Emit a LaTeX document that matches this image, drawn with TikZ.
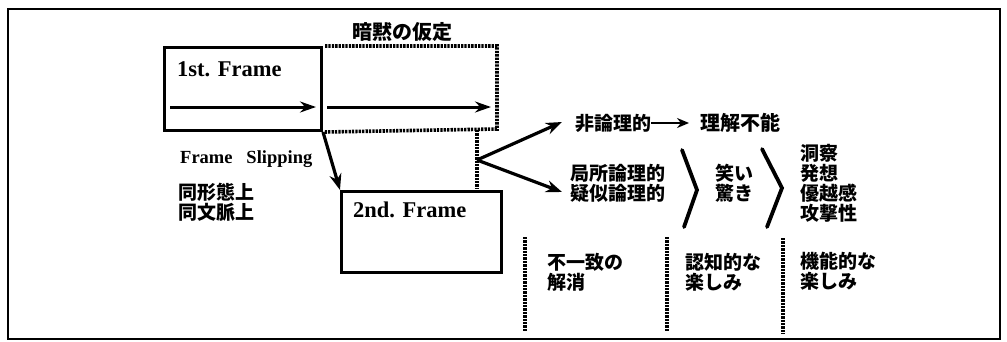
\documentclass[tikz,border=0pt]{standalone}
\usepackage{fontspec}
\setmainfont{Liberation Serif}
\newfontfamily\jp{Noto Sans CJK JP}
\usetikzlibrary{arrows.meta}
\begin{document}
\begin{tikzpicture}[x=1pt,y=-1pt,
  solidbox/.style={draw, line width=3pt, inner sep=0pt},
  dotline/.style={line width=3.6pt, dash pattern=on 2.3pt off 1.1pt},
  arr/.style={line width=3pt, -{Stealth[length=16pt,width=11pt]}},
  thickarr/.style={line width=3.2pt, -{Stealth[length=16pt,width=12pt]}},
  jtext/.style={font=\jp\bfseries\fontsize{19}{20}\selectfont, inner sep=0pt, align=left, anchor=west},
  etext/.style={font=\bfseries\fontsize{22.5}{24}\selectfont, inner sep=0pt, anchor=base west},
  chev/.style={line width=3.8pt, line cap=round, line join=miter}
]
\useasboundingbox (0,0) rectangle (1007,341);
\draw[line width=1.3pt] (8,9) rectangle (1000,339);

% frames
\node[solidbox, minimum width=157pt, minimum height=83pt, anchor=north west] (f1) at (163,46) {};
\node[solidbox, line width=2.8pt, minimum width=160pt, minimum height=81pt, anchor=north west] (f2) at (340,190) {};
% implicit assumption box (dotted, three sides)
\coordinate (impNE) at (497,46);
\coordinate (impSE) at (497,129);
\draw[dotline] ([xshift=2pt]f1.north east) -- (impNE) -- (impSE) -- ([xshift=2pt]f1.south east);

\node[font=\jp\bfseries\fontsize{20}{22}\selectfont, inner sep=0pt] (assume) at (402,32) {暗黙の仮定};
\node[etext] (t1) at (177,76) {1st. Frame};
\node[etext] (t2) at (353,217) {2nd. Frame};
\node[font=\bfseries\fontsize{18.5}{20}\selectfont, inner sep=0pt, anchor=base west] (slip) at (180,163) {Frame\hspace{0.75em}Slipping};
\node[jtext] (same) at (178,202) {同形態上\\同文脈上};

% arrows inside frames
\coordinate (a1s) at (170,107);
\coordinate (a1e) at (316,107);
\coordinate (a2s) at (327,107);
\coordinate (a2e) at (491,107);
\draw[arr] (a1s) -- (a1e);
\draw[arr] (a2s) -- (a2e);

% frame slipping arrow
\draw[thickarr] (f1.south east) -- (f2.north west);

% dotted vertical and branch
\coordinate (vtop) at (477,130);
\coordinate (vbot) at (477,189);
\coordinate (br) at (477,160);
\draw[dotline] (vtop) -- (vbot);

\node[jtext] (nonlog) at (575,123) {非論理的};
\node[jtext, font=\jp\bfseries\fontsize{20}{22}\selectfont] (incomp) at (700,123) {理解不能};
\node[jtext] (local) at (570,183) {局所論理的\\疑似論理的};
\coordinate (uptip) at (562,122);
\coordinate (lowtip) at (562,192);
\draw[thickarr] (br) -- (uptip);
\draw[thickarr] (br) -- (lowtip);
\draw[line width=2.8pt, -{Stealth[length=12pt,width=10pt]}] (nonlog.east) -- ([xshift=-11pt]incomp.west);

% chevrons
\draw[chev] (682,150) -- (697,190) -- (684,227);
\node[jtext] (laugh) at (715,183) {笑い\\驚き};
\draw[chev] (762,149) -- (782,188) -- (767,227);
\node[jtext] (effects) at (800,183) {洞察\\発想\\優越感\\攻撃性};

% bottom dotted separators and texts
\coordinate (d1t) at (525,237); \coordinate (d1b) at (525,332);
\coordinate (d2t) at (667,237); \coordinate (d2b) at (667,332);
\coordinate (d3t) at (783,238); \coordinate (d3b) at (783,334);
\draw[dotline] (d1t) -- (d1b);
\draw[dotline] (d2t) -- (d2b);
\draw[dotline] (d3t) -- (d3b);
\node[jtext] (resolve) at (547,272) {不一致の\\解消};
\node[jtext] (cogn) at (685,272) {認知的な\\楽しみ};
\node[jtext] (func) at (800,271) {機能的な\\楽しみ};
\end{tikzpicture}
\end{document}
